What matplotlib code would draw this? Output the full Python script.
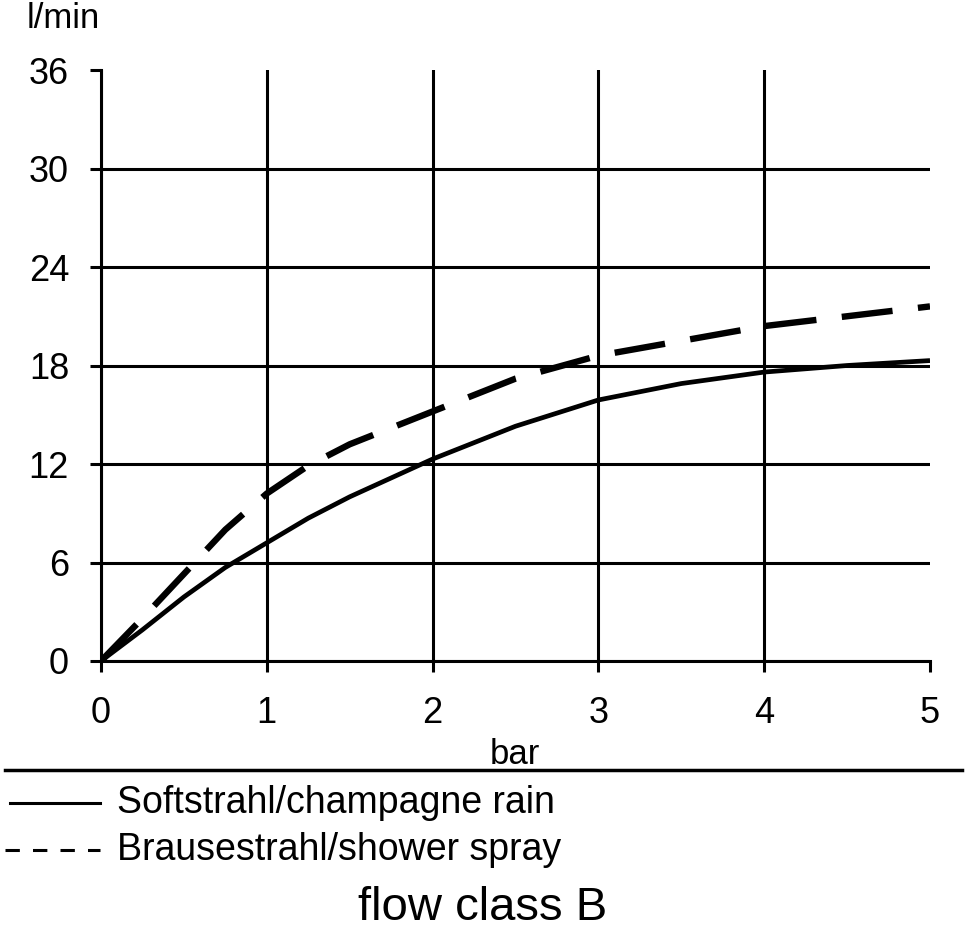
import matplotlib
matplotlib.use('Agg')
import matplotlib.pyplot as plt
from matplotlib.lines import Line2D

# data
pressure = [0, 0.25, 0.5, 0.75, 1.0, 1.25, 1.5, 2.0, 2.5, 3.0, 3.5, 4.0, 4.5, 5.0]
soft = [0, 1.9, 3.9, 5.7, 7.2, 8.7, 10.0, 12.3, 14.3, 15.9, 16.9, 17.6, 18.0, 18.3]
shower = [0, 2.6, 5.3, 8.0, 10.2, 11.9, 13.2, 15.2, 17.2, 18.6, 19.5, 20.4, 21.0, 21.6]
labels = ['Softstrahl/champagne rain', 'Brausestrahl/shower spray']
xticks = [0, 1, 2, 3, 4, 5]
yticks = [0, 6, 12, 18, 24, 30, 36]

plt.rcParams['font.family'] = ['Liberation Sans', 'DejaVu Sans']

fig = plt.figure(figsize=(9.66, 9.36), dpi=100)
ax = fig.add_axes([101 / 966, 1 - 661 / 936, 829 / 966, 591 / 936])

line1, = ax.plot(pressure, soft, color='black', lw=3.4, solid_capstyle='butt')
line2, = ax.plot(pressure, shower, color='black', lw=4.6, dashes=(8, 4), dash_capstyle='butt')

ax.set_xlim(0, 5)
ax.set_ylim(0, 36)
ax.set_xticks(xticks)
ax.set_yticks(yticks)
ax.tick_params(labelsize=26, length=8, width=2.2, color='black')
ax.tick_params(axis='x', pad=17)
ax.tick_params(axis='y', pad=15)

for s in ['top', 'right']:
    ax.spines[s].set_visible(False)
for s in ['left', 'bottom']:
    ax.spines[s].set_linewidth(2.2)

# grid lines, none at the top or right edge
ax.grid(True, color='black', lw=2.2)
ax.get_xgridlines()[-1].set_visible(False)
ax.get_ygridlines()[-1].set_visible(False)
ax.set_axisbelow(True)

fig.text(515 / 966, 1 - 755 / 936, 'bar', fontsize=25, ha='center', va='center')
fig.text(27 / 966, 1 - 18 / 936, 'l/min', fontsize=25, va='center', ha='left')

# separator line
fig.add_artist(Line2D([5 / 966, 962 / 966], [1 - 770 / 936] * 2, color='black', lw=2.5))

# legend drawn by hand
fig.add_artist(Line2D([10 / 966, 100 / 966], [1 - 803 / 936] * 2, color='black', lw=2.2))
fig.add_artist(Line2D([5 / 966, 100 / 966], [1 - 850 / 936] * 2, color='black', lw=2.2,
                      dashes=(4.7, 4.3)))
fig.text(117 / 966, 1 - 803 / 936, labels[0], fontsize=27, va='center')
fig.text(117 / 966, 1 - 850 / 936, labels[1], fontsize=27, va='center')

fig.text(483 / 966, 1 - 908 / 936, 'flow class B', fontsize=34,
         ha='center', va='center')

fig.savefig('out.png', dpi=100)
